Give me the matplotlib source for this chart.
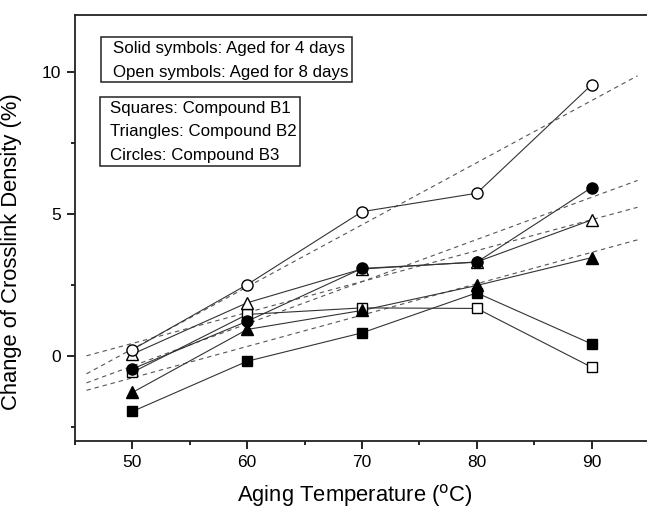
import numpy as np
import matplotlib
matplotlib.use("Agg")
import matplotlib.pyplot as plt
from matplotlib.patches import Rectangle

plt.rcParams['font.family'] = ['Liberation Sans', 'DejaVu Sans']

temp = np.array([50, 60, 70, 80, 90])

# change of crosslink density (%), solid = 4 days, open = 8 days
b1_4d = np.array([-1.97, -0.20, 0.80, 2.21, 0.41])
b1_8d = np.array([-0.59, 1.45, 1.68, 1.66, -0.41])
b2_4d = np.array([-1.30, 0.92, 1.59, 2.47, 3.45])
b2_8d = np.array([0.05, 1.86, 3.05, 3.30, 4.78])
b3_4d = np.array([-0.47, 1.21, 3.07, 3.29, 5.92])
b3_8d = np.array([0.21, 2.50, 5.07, 5.72, 9.54])

series = [
    (b1_4d, 's', 'black'),
    (b1_8d, 's', 'white'),
    (b2_4d, '^', 'black'),
    (b2_8d, '^', 'white'),
    (b3_4d, 'o', 'black'),
    (b3_8d, 'o', 'white'),
]
fitted = [b2_4d, b2_8d, b3_4d, b3_8d]

fig = plt.figure(figsize=(6.47, 5.11), dpi=100)
ax = fig.add_axes([75 / 647, 70.3 / 511, 574 / 647, 425.7 / 511])

# linear fits (dashed)
xf = np.array([46, 94])
for y in fitted:
    z = np.polyfit(temp, y, 1)
    ax.plot(xf, np.polyval(z, xf), linestyle=(0, (4, 3.5)), color='#555555',
            lw=0.8, zorder=1)

for y, m, fc in series:
    ax.plot(temp, y, '-', color='#333333', lw=0.8, zorder=2)
for y, m, fc in series:
    ms = 7.6 if m == 's' else (8.6 if m == '^' else 8.0)
    ax.plot(temp, y, linestyle='none', marker=m, markersize=ms,
            markerfacecolor=fc, markeredgecolor='black', markeredgewidth=1.0,
            zorder=3)

ax.set_xlim(45, 95)
ax.set_ylim(-3, 12)
ax.set_xticks([50, 60, 70, 80, 90])
ax.set_xticks([45, 55, 65, 75, 85, 95], minor=True)
ax.set_yticks([0, 5, 10])
ax.set_yticks([-2.5, 2.5, 7.5], minor=True)
ax.tick_params(which='major', direction='out', length=6, width=1.2,
               labelsize=12.5, pad=4)
ax.tick_params(which='minor', direction='out', length=3.2, width=1.2)
ax.tick_params(axis='x', which='major', pad=4.5)
for s in ax.spines.values():
    s.set_linewidth(1.3)
    s.set_color('#222222')

ax.set_xlabel('Aging Temperature ($^{\\mathrm{o}}$C)', fontsize=15.8)
ax.set_ylabel('Change of Crosslink Density (%)', fontsize=15.8)
ax.xaxis.set_label_coords(0.488, -0.098)
ax.yaxis.set_label_coords(-0.092, 0.443)

# annotation boxes (figure pixel layout)
H = 511.0
W = 647.0
def box(x0, y0, x1, y1):
    fig.patches.append(Rectangle((x0 / W, 1 - y1 / H), (x1 - x0) / W,
                                 (y1 - y0) / H, transform=fig.transFigure,
                                 fill=False, edgecolor='#222222', lw=1.1))

fs = 12.2
box(101, 37, 352, 82)
fig.text(113 / W, 1 - 49 / H, 'Solid symbols: Aged for 4 days', fontsize=fs,
         va='center', ha='left')
fig.text(113 / W, 1 - 72 / H, 'Open symbols: Aged for 8 days', fontsize=fs,
         va='center', ha='left')

box(100, 97, 300, 166)
labels2 = ['Squares: Compound B1', 'Triangles: Compound B2', 'Circles: Compound B3']
for i, t in enumerate(labels2):
    fig.text(109.5 / W, 1 - (108.5 + 23.3 * i) / H, t, fontsize=fs,
             va='center', ha='left')

fig.savefig('out.png', dpi=100)
